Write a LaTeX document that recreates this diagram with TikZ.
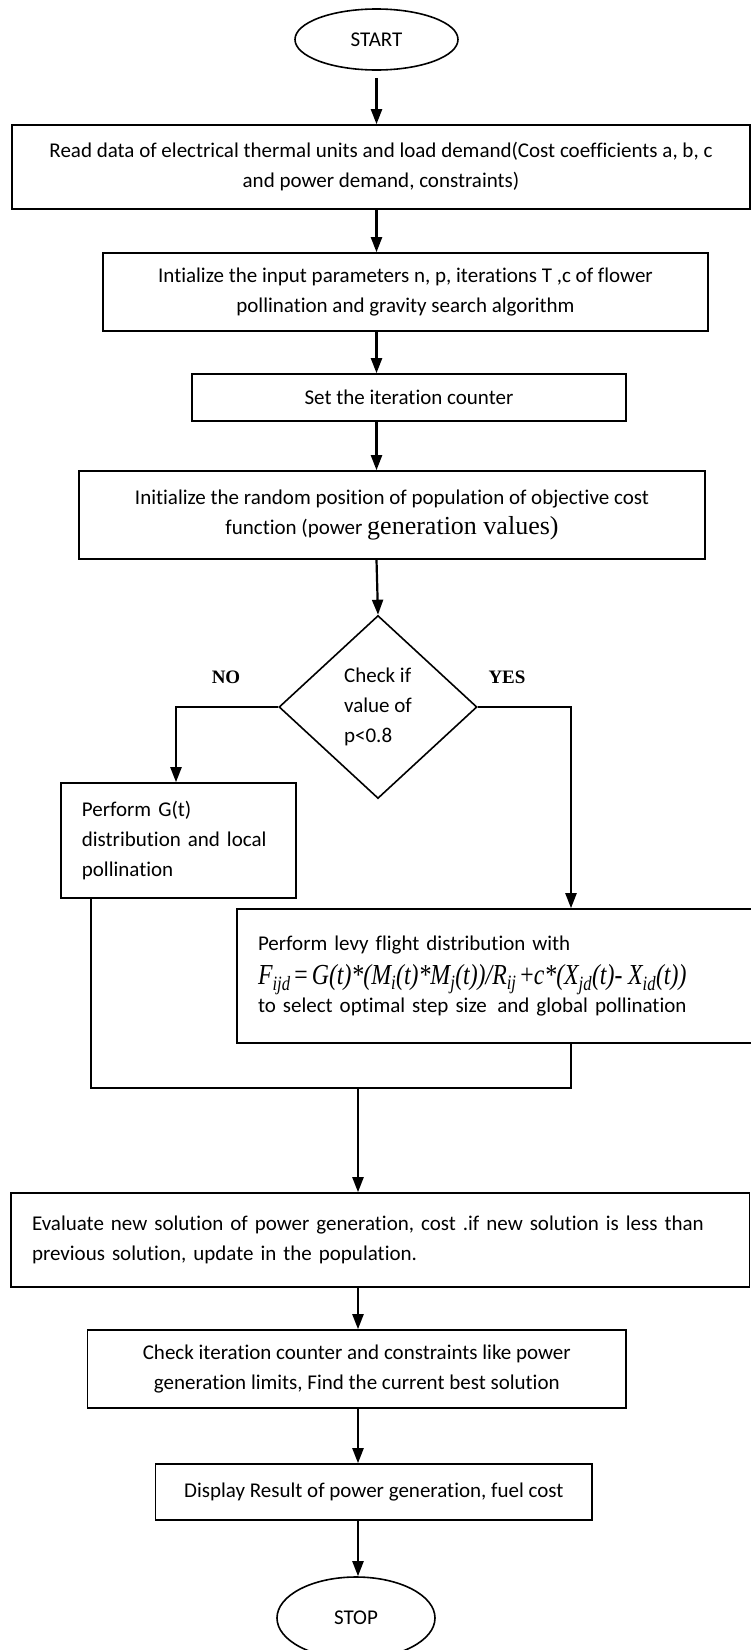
\documentclass[tikz,border=0pt]{standalone}
\usepackage{fontspec}
\setmainfont{Carlito}[Ligatures=NoCommon]
\newfontfamily\timesfont{Liberation Serif}
\usetikzlibrary{shapes.geometric,arrows.meta}

\begin{document}
\begin{tikzpicture}[x=1pt,y=-1pt,
    font=\fontsize{21}{30}\selectfont,
    box/.style={draw, line width=1.6pt, inner sep=0pt, align=center},
    term/.style={draw, ellipse, line width=1.6pt, inner sep=0pt},
    decision/.style={draw, diamond, line width=1.6pt, inner sep=0pt, align=left},
    answer/.style={font=\timesfont\bfseries\fontsize{19}{22}\selectfont},
    flow/.style={line width=2.2pt, -{Triangle[length=15pt,width=11pt]}},
    link/.style={line width=1.8pt}]
    \useasboundingbox (0,0) rectangle (751,1650);

    % Start and set-up steps
    \node[term, minimum width=163pt, minimum height=61pt] (start) at (376.5,39.5) {START};
    \node[box, minimum width=738pt, minimum height=84pt] (read) at (381,167)
        {Read data of electrical thermal units and load demand(Cost coefficients a, b, c\\
         and power demand, constraints)};
    \node[box, minimum width=605pt, minimum height=78pt] (init) at (405.5,292)
        {Intialize the input parameters n, p, iterations T ,c of flower\\
         pollination and gravity search algorithm};
    \node[box, minimum width=434.5pt, minimum height=47pt] (counter) at (409,397.5)
        {Set the iteration counter};
    \node[box, minimum width=626pt, minimum height=88pt] (random) at (392,515)
        {Initialize the random position of population of objective cost\\
         function (power {\timesfont\fontsize{26}{30}\selectfont generation values)}};

    \draw[flow] ([yshift=-7pt]start.south) -- (read.north -| start);
    \draw[flow] (read.south -| start) -- (init.north -| start);
    \draw[flow] (init.south -| start) -- (counter.north -| start);
    \draw[flow] (counter.south -| start) -- (random.north -| start);

    % Decision on p
    \node[decision, minimum width=198pt, minimum height=183pt] (check) at (378,707)
        {Check if\\value of\\p<0.8};
    \draw[flow] (random.south -| start) -- (check.north);
    \node[answer] (no) at (226,677) {NO};
    \node[answer] (yes) at (507,677) {YES};

    % Local and global pollination
    \node[box, minimum width=234.7pt, minimum height=115pt, text width=193pt, align=left] (local) at (178.4,840.5)
        {Perform G(t)\\distribution and local\\pollination};
    \node[box, minimum width=523pt, minimum height=134pt, text width=481pt, align=left] (global) at (498.5,976)
        {Perform levy flight distribution with\\[4pt]
         \scalebox{0.82}[1]{\timesfont\itshape\fontsize{29}{30}\selectfont F\textsubscript{ijd}\,{\upshape=}\,G(t)*(M\textsubscript{i}(t)*M\textsubscript{j}(t))/R\textsubscript{ij}\,{\upshape+}c*(X\textsubscript{jd}(t)- X\textsubscript{id}(t))}\\[-2pt]
         to select optimal step size \,and global pollination};

    \coordinate (noturn) at (176,707);
    \coordinate (yesturn) at (571,707);
    \draw[flow] (check.west) -- (noturn) -- (local.north -| noturn);
    \draw[flow] (check.east) -- (yesturn) -- (global.north -| yesturn);

    % Joining the two branches
    \coordinate (joinL) at (91,1088);
    \coordinate (joinR) at (571,1088);
    \coordinate (merge) at (358,1088);
    \draw[link] (local.south -| joinL) -- (joinL) -- (joinR) -- (global.south -| joinR);

    % Evaluation and end
    \node[box, minimum width=738.5pt, minimum height=94pt, text width=696.5pt, align=left] (eval) at (380.25,1240)
        {Evaluate new solution of power generation, cost .if new solution is less than\\
         previous solution, update in the population.};
    \node[box, minimum width=538.4pt, minimum height=78pt] (limits) at (356.8,1369)
        {Check iteration counter and constraints like power\\
         generation limits, Find the current best solution};
    \node[box, minimum width=436.4pt, minimum height=56pt] (display) at (373.8,1492)
        {Display Result of power generation, fuel cost};
    \node[term, minimum width=158pt, minimum height=82pt] (stop) at (356,1618) {STOP};

    \draw[flow] (merge) -- (eval.north -| merge);
    \draw[flow] (eval.south -| merge) -- (limits.north -| merge);
    \draw[flow] (limits.south -| merge) -- (display.north -| merge);
    \draw[flow] (display.south -| merge) -- (stop.north -| merge);
\end{tikzpicture}
\end{document}
